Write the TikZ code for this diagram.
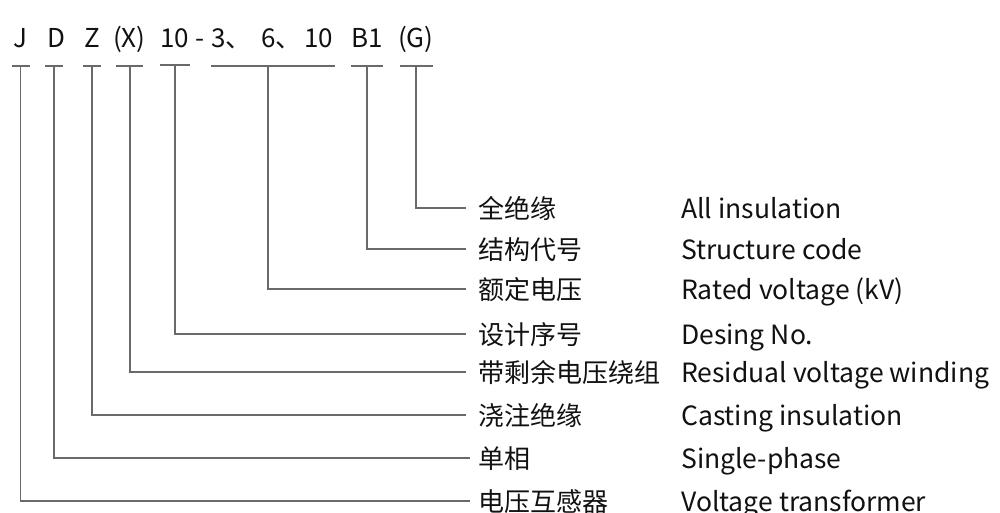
\documentclass[tikz,border=0pt]{standalone}
\usepackage{fontspec}
\newfontfamily\cjk{Noto Sans CJK SC}
\definecolor{linegray}{HTML}{6A6A6A}
\definecolor{textblack}{HTML}{111111}
\begin{document}
\begin{tikzpicture}[x=1pt,y=-1pt,
  conn/.style={draw=linegray, line width=1.3pt},
  code/.style={anchor=base west, inner sep=0pt, text=textblack, font=\cjk\fontsize{26}{30}\selectfont},
  zh/.style={anchor=base west, inner sep=0pt, text height=20pt, text depth=0pt, text=textblack, font=\cjk\fontsize{26}{30}\selectfont},
  en/.style={anchor=base west, inner sep=0pt, text=textblack, font=\cjk\fontsize{26.5}{30}\selectfont}]
\useasboundingbox (0,0) rectangle (1000,512);

% code letters
\node[code] (cJ) at (13,47) {J};
\node[code] (cD) at (47,47) {D};
\node[code] (cZ) at (84,47) {Z};
\node[code] (cX) at (113,47) {(X)};
\node[code] (cN) at (160,47) {10};
\node[code] (cH) at (195,47) {-};
\node[code] (cV3) at (211,47) {3、};
\node[code] (cV6) at (261,47) {6、};
\node[code] (cV10) at (304,47) {10};
\node[code] (cB) at (351,47) {B1};
\node[code] (cG) at (398,47) {(G)};

% bars under codes
\coordinate (sJ) at (20.7,66);
\coordinate (sD) at (54,66);
\coordinate (sZ) at (92,66);
\coordinate (sX) at (130,66);
\coordinate (sN) at (175,65);
\coordinate (sV) at (268,66);
\coordinate (sB) at (367,66);
\coordinate (sG) at (416,66);
\draw[conn] (12,66) -- (30,66);
\draw[conn] (45,66) -- (63,66);
\draw[conn] (83,66) -- (101,66);
\draw[conn] (116,66) -- (143,66);
\draw[conn] (160,65) -- (190,65);
\draw[conn] (211,66) -- (335,66);
\draw[conn] (351,66) -- (383,66);
\draw[conn] (400,66) -- (433,66);

% Chinese labels
\node[zh] (lG) at (478,218) {全绝缘};
\node[zh] (lB) at (478,259) {结构代号};
\node[zh] (lV) at (478,299) {额定电压};
\node[zh] (lN) at (478,344) {设计序号};
\node[zh] (lX) at (478,382) {带剩余电压绕组};
\node[zh] (lZ) at (478,425) {浇注绝缘};
\node[zh] (lD) at (478,468) {单相};
\node[zh] (lJ) at (478,511) {电压互感器};

% English labels
\node[en] (eG) at (681,218) {All insulation};
\node[en] (eB) at (681,259) {Structure code};
\node[en] (eV) at (681,299) {Rated voltage (kV)};
\node[en] (eN) at (681,344) {Desing No.};
\node[en] (eX) at (681,382) {Residual voltage winding};
\node[en] (eZ) at (681,425) {Casting insulation};
\node[en] (eD) at (681,468) {Single-phase};
\node[en] (eJ) at (681,511) {Voltage transformer};

% connectors
\draw[conn] (sG) |- ([xshift=-12pt]lG.west);
\draw[conn] (sB) |- ([xshift=-12pt]lB.west);
\draw[conn] (sV) |- ([xshift=-12pt]lV.west);
\draw[conn] (sN) |- ([xshift=-12pt]lN.west);
\draw[conn] (sX) |- ([xshift=-12pt]lX.west);
\draw[conn] (sZ) |- ([xshift=-12pt]lZ.west);
\draw[conn] (sD) |- ([xshift=-8pt]lD.west);
\draw[conn] (sJ) |- ([xshift=-8pt]lJ.west);
\end{tikzpicture}
\end{document}
